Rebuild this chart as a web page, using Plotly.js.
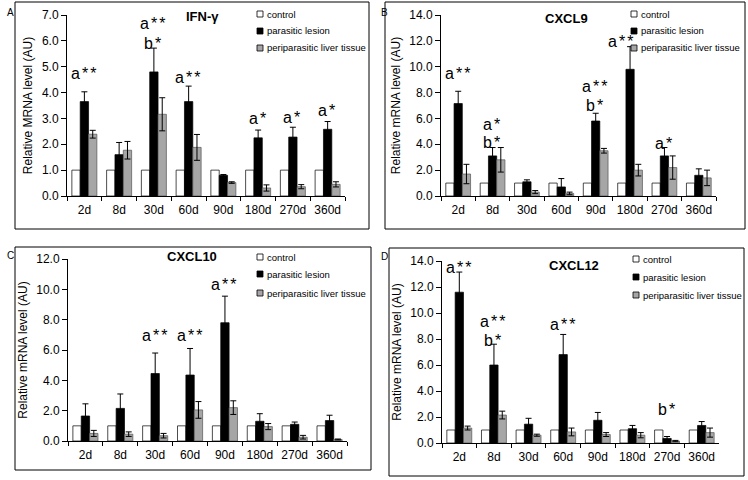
<!DOCTYPE html>
<html>
<head>
<meta charset="utf-8">
<script src="https://cdn.plot.ly/plotly-3.0.1.min.js"></script>
<style>html,body{margin:0;padding:0;background:#fff;}#chart{width:748px;height:480px;}</style>
</head>
<body>
<div id="chart"></div>
<script>
// ---------- data ----------
const days = ['2d','8d','30d','60d','90d','180d','270d','360d'];
const seriesNames = ['control','parasitic lesion','periparasitic liver tissue'];

// Panel A: IFN-γ
const ctrlA = [1,1,1,1,1,1,1,1];
const lesA  = [3.65,1.60,4.80,3.65,0.80,2.25,2.28,2.58];
const lesErrA = [0.38,0.47,0.92,0.60,0.03,0.30,0.38,0.30];
const periA = [2.39,1.77,3.16,1.88,0.52,0.31,0.36,0.45];
const periErrA = [0.15,0.34,0.64,0.50,0.03,0.12,0.08,0.10];

// Panel B: CXCL9
const ctrlB = [1,1,1,1,1,1,1,1];
const lesB  = [7.15,3.10,1.10,0.70,5.80,9.80,3.10,1.60];
const lesErrB = [0.95,0.65,0.15,0.65,0.60,1.75,0.65,0.50];
const periB = [1.70,2.80,0.30,0.20,3.50,2.00,2.20,1.40];
const periErrB = [0.75,0.95,0.12,0.10,0.18,0.45,0.90,0.60];

// Panel C: CXCL10
const ctrlC = [1,1,1,1,1,1,1,1];
const lesC  = [1.65,2.15,4.45,4.35,7.80,1.30,1.10,1.35];
const lesErrC = [0.80,0.95,1.35,1.75,1.75,0.50,0.15,0.35];
const periC = [0.50,0.45,0.35,2.05,2.20,0.95,0.25,0.10];
const periErrC = [0.20,0.15,0.15,0.55,0.45,0.20,0.12,0.03];

// Panel D: CXCL12
const ctrlD = [1,1,1,1,1,1,1,1];
const lesD  = [11.60,6.00,1.45,6.80,1.75,1.10,0.35,1.35];
const lesErrD = [1.55,1.60,0.45,1.55,0.60,0.25,0.15,0.30];
const periD = [1.15,2.15,0.60,0.85,0.65,0.60,0.15,0.80];
const periErrD = [0.15,0.30,0.08,0.30,0.15,0.20,0.05,0.35];

// significance labels (day, text, y position of label, horizontal shift in px)
const sigDayA = ['2d','30d','30d','60d','180d','270d','360d'];
const sigTxtA = ['a**','a**','b*','a**','a*','a*','a*'];
const sigYA   = [4.74,6.66,5.89,4.60,3.00,3.05,3.30];
const sigDxA  = [0,0,0,0,0,0,0];

const sigDayB = ['2d','8d','8d','90d','90d','180d','270d'];
const sigTxtB = ['a**','a*','b*','a**','b*','a**','a*'];
const sigYB   = [9.45,5.50,4.10,8.50,7.00,11.95,4.05];
const sigDxB  = [0,0,0,0,0,-9,0];

const sigDayC = ['30d','60d','90d'];
const sigTxtC = ['a**','a**','a**'];
const sigYC   = [6.95,6.95,10.30];
const sigDxC  = [0,0,0];

const sigDayD = ['2d','8d','8d','60d','270d'];
const sigTxtD = ['a**','a**','b*','a**','b*'];
const sigYD   = [13.50,9.35,7.87,9.10,2.60];
const sigDxD  = [0,0,0,0,0];

const geneTitles = ['IFN-γ','CXCL9','CXCL10','CXCL12'];
const yTitles = ['Relative MRNA level (AU)','Relative mRNA level (AU)','Relative mRNA level (AU)','Relative mRNA level (AU)'];
const yMax = [7,14,12,14];
const yStep = [1,2,2,2];
const panelLetters = ['A','B','C','D'];

// ---------- layout helpers ----------
const W = 748, H = 480;
const px = x => x / W;
const py = y => 1 - y / H;

const colCtrl = '#ffffff', colLes = '#000000', colPeri = '#a6a6a6';
const swatchColors = [colCtrl, colLes, colPeri];
const FONT = 'Liberation Sans, Arial, sans-serif';

// plot areas in pixels [x0, x1, yTop, yBottom]
const areas = [
  [67, 345, 15, 196],
  [441, 716, 15, 196],
  [68, 347, 259, 441],
  [442, 719, 261, 443]
];
// panel borders [x0, y0, x1, y1]
const borders = [
  [15, 2, 369, 229],
  [385, 2, 745, 229],
  [15, 247, 371, 470],
  [389, 248, 744, 476]
];
const letterPos = [[5,12],[379,12],[5,255],[379,256]];
const titlePos = [[202,17],[566,19],[192,256],[574,265]];
// legend: swatch centre x, and row centre y's
const legendX = [260, 634, 260, 636];
const legendRows = [[14,31,48],[14,31,48],[257,274,293],[259,277,295]];

const ctrl = [ctrlA, ctrlB, ctrlC, ctrlD];
const les = [lesA, lesB, lesC, lesD];
const lesErr = [lesErrA, lesErrB, lesErrC, lesErrD];
const peri = [periA, periB, periC, periD];
const periErr = [periErrA, periErrB, periErrC, periErrD];
const sigDay = [sigDayA, sigDayB, sigDayC, sigDayD];
const sigTxt = [sigTxtA, sigTxtB, sigTxtC, sigTxtD];
const sigY = [sigYA, sigYB, sigYC, sigYD];
const sigDx = [sigDxA, sigDxB, sigDxC, sigDxD];

const traces = [];
const layout = {
  width: W, height: H,
  margin: {l:0, r:0, t:0, b:0},
  paper_bgcolor: '#fff', plot_bgcolor: 'rgba(0,0,0,0)',
  barmode: 'group', bargap: 0.28, bargroupgap: 0,
  showlegend: false,
  font: {family: FONT, color: '#000'},
  annotations: [], shapes: []
};

for (let p = 0; p < 4; p++) {
  const n = p === 0 ? '' : String(p + 1);
  const xa = 'x' + n, ya = 'y' + n;
  const a = areas[p];

  const errStyle = arr => ({type:'data', array: arr, visible:true, color:'#000', thickness:1, width:3});
  traces.push({type:'bar', x: days, y: ctrl[p], xaxis: xa, yaxis: ya, name: seriesNames[0],
    marker:{color: colCtrl, line:{color:'#000', width:0.7}}});
  traces.push({type:'bar', x: days, y: les[p], xaxis: xa, yaxis: ya, name: seriesNames[1],
    marker:{color: colLes, line:{color:'#000', width:0.7}}, error_y: errStyle(lesErr[p])});
  traces.push({type:'bar', x: days, y: peri[p], xaxis: xa, yaxis: ya, name: seriesNames[2],
    marker:{color: colPeri, line:{color:'#555', width:0.7}}, error_y: errStyle(periErr[p])});

  layout['xaxis' + n] = {
    domain: [px(a[0]), px(a[1])], anchor: ya, type:'category',
    range: [-0.5, days.length - 0.5], fixedrange:true,
    showline:true, linecolor:'#000', linewidth:1, mirror:false,
    ticks:'outside', tickson:'boundaries', ticklen:4, tickcolor:'#000', tickwidth:1,
    tickangle: 0, ticklabelstandoff: 3,
    showgrid:false, zeroline:false,
    tickfont:{family: FONT, size:12, color:'#000'}
  };
  layout['yaxis' + n] = {
    domain: [py(a[3]), py(a[2])], anchor: xa,
    range: [0, yMax[p]], dtick: yStep[p], tick0: 0, tickformat: '.1f', fixedrange:true,
    showline:true, linecolor:'#000', linewidth:1,
    ticks:'outside', ticklen:5, tickcolor:'#000', tickwidth:1,
    showgrid:false, zeroline:false,
    tickfont:{family: FONT, size:12, color:'#000'},
    title:{text: yTitles[p], font:{family: FONT, size:12, color:'#000'}, standoff: 6}
  };

  // panel border
  const b = borders[p];
  layout.shapes.push({type:'rect', xref:'paper', yref:'paper',
    x0: px(b[0]), x1: px(b[2]), y0: py(b[3]), y1: py(b[1]),
    line:{color:'#000', width:1}, fillcolor:'rgba(0,0,0,0)'});

  // legend (swatch + label for each series)
  for (let s = 0; s < 3; s++) {
    const cx = legendX[p], cy = legendRows[p][s];
    layout.shapes.push({type:'rect', xref:'paper', yref:'paper',
      x0: px(cx - 3), x1: px(cx + 3), y0: py(cy + 3), y1: py(cy - 3),
      line:{color:'#000', width:0.8}, fillcolor: swatchColors[s]});
    layout.annotations.push({xref:'paper', yref:'paper', x: px(cx + 5), y: py(cy),
      xanchor:'left', yanchor:'middle', showarrow:false, text: seriesNames[s],
      font:{family: FONT, size:9.5, color:'#000'}});
  }

  // panel letter
  layout.annotations.push({xref:'paper', yref:'paper', x: px(letterPos[p][0]), y: py(letterPos[p][1]),
    xanchor:'left', yanchor:'middle', showarrow:false, text: panelLetters[p],
    font:{family: FONT, size:10, color:'#000'}});
  // gene title
  layout.annotations.push({xref:'paper', yref:'paper', x: px(titlePos[p][0]), y: py(titlePos[p][1]),
    xanchor:'center', yanchor:'middle', showarrow:false, text: '<b>' + geneTitles[p] + '</b>',
    font:{family: FONT, size:13, color:'#000'}});
  // significance labels
  for (let i = 0; i < sigDay[p].length; i++) {
    layout.annotations.push({xref: xa, yref: ya, x: sigDay[p][i], y: sigY[p][i], xshift: sigDx[p][i],
      xanchor:'center', yanchor:'middle', showarrow:false,
      text: '<span style="letter-spacing:2px">' + sigTxt[p][i] + '</span>',
      font:{family: FONT, size:16, color:'#000'}});
  }
}

Plotly.newPlot('chart', traces, layout, {staticPlot:true, displayModeBar:false});
</script>
</body>
</html>
